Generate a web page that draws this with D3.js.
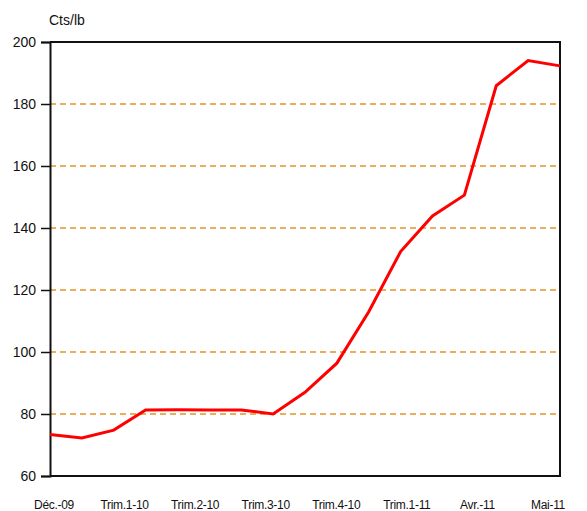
<!DOCTYPE html>
<html>
<head>
<meta charset="utf-8">
<script src="https://cdn.jsdelivr.net/npm/d3@7"></script>
<style>
  body { margin: 0; background: #fff; }
  text { font-family: Arial, "Liberation Sans", sans-serif; fill: #111; }
</style>
</head>
<body>
<svg id="chart" width="587" height="511"></svg>
<script>
// price series, one value per period (Cts/lb)
const prices = [73.4, 72.3, 74.8, 81.3, 81.4, 81.3, 81.3, 80.0, 87.0, 96.4, 113.0, 132.4, 143.9, 150.6, 185.9, 194.0, 192.3];
// x axis labels (shown under the axis, spread across)
const xLabels = ["Déc.-09", "Trim.1-10", "Trim.2-10", "Trim.3-10", "Trim.4-10", "Trim.1-11", "Avr.-11", "Mai-11"];
const yTicks = [60, 80, 100, 120, 140, 160, 180, 200];
const gridValues = [80, 100, 120, 140, 160, 180];
const unitLabel = "Cts/lb";

const margin = { top: 42, right: 27, bottom: 35, left: 50 };
const svg = d3.select("#chart"),
   width = +svg.attr("width") - margin.left - margin.right,
   height = +svg.attr("height") - margin.top - margin.bottom;

const x = d3.scaleLinear()
   .domain([0, prices.length - 1])
   .range([0, width]);

const y = d3.scaleLinear()
   .domain([60, 200])
   .range([height, 0]);

const g = svg.append("g")
   .attr("transform", `translate(${margin.left},${margin.top})`);

// dashed orange gridlines
g.selectAll(".grid")
   .data(gridValues)
   .enter().append("line")
   .attr("class", "grid")
   .attr("x1", 0)
   .attr("x2", width)
   .attr("y1", d => y(d))
   .attr("y2", d => y(d))
   .attr("stroke", "#e0952a")
   .attr("stroke-width", 1.5)
   .attr("stroke-dasharray", "6,4");

// frame top / right / bottom
g.append("path")
   .attr("d", `M0,0H${width}V${height}H0`)
   .attr("fill", "none")
   .attr("stroke", "#111")
   .attr("stroke-width", 2);

// left axis with ticks
const yAxis = g.append("g")
   .call(d3.axisLeft(y).tickValues(yTicks).tickSize(9).tickPadding(5));
yAxis.select(".domain").attr("stroke", "#111").attr("stroke-width", 2);
yAxis.selectAll(".tick line").attr("stroke", "#111").attr("stroke-width", 1.5);
yAxis.selectAll(".tick text")
   .style("font-size", "14px")
   .style("font-family", "Arial, 'Liberation Sans', sans-serif")
   .attr("fill", "#111");

// unit label on top
svg.append("text")
   .attr("x", 49)
   .attr("y", 25)
   .style("font-size", "14px")
   .text(unitLabel);

// price line
const line = d3.line()
   .x((d, i) => x(i))
   .y(d => y(d));

g.append("path")
   .datum(prices)
   .attr("d", line)
   .attr("fill", "none")
   .attr("stroke", "#ff0000")
   .attr("stroke-width", 3)
   .attr("stroke-linejoin", "miter");

// category labels spread under the axis
const xl = d3.scalePoint()
   .domain(xLabels)
   .range([54, 548]);

svg.selectAll(".xlabel")
   .data(xLabels)
   .enter().append("text")
   .attr("class", "xlabel")
   .attr("x", d => xl(d))
   .attr("y", 509)
   .attr("text-anchor", "middle")
   .style("font-size", "12px")
   .style("letter-spacing", "-0.3px")
   .text(d => d);
</script>
</body>
</html>
